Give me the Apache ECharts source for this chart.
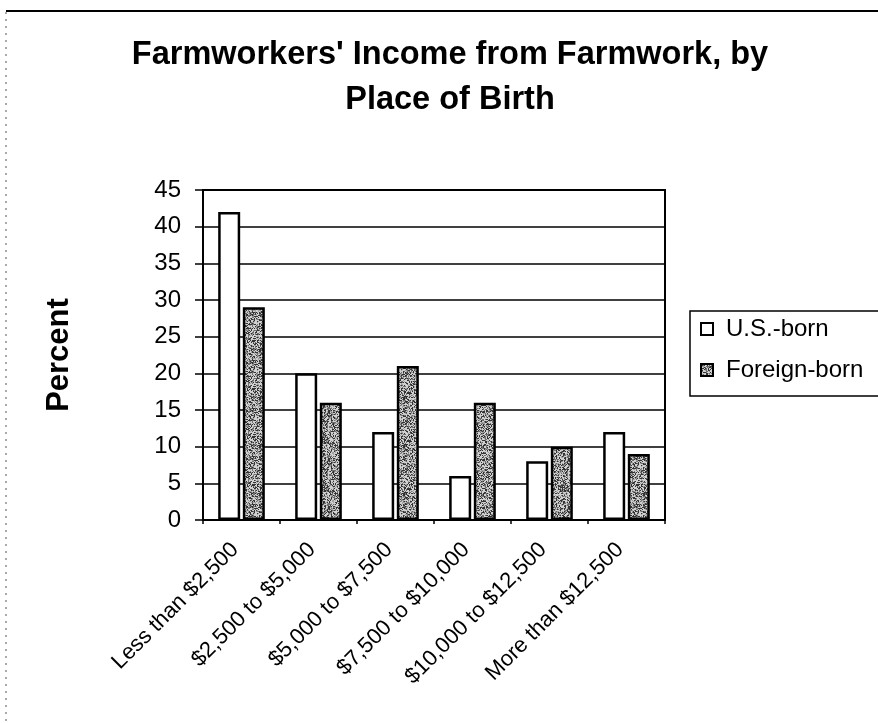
<!DOCTYPE html>
<html>
<head>
<meta charset="utf-8">
<script src="https://cdn.jsdelivr.net/npm/echarts@6/dist/echarts.min.js"></script>
<style>
  html, body { margin: 0; padding: 0; background: #fff; }
  #chart { width: 878px; height: 723px; }
</style>
</head>
<body>
<div id="chart"></div>
<script>
// Income brackets (x axis categories)
const categories = [
  'Less than $2,500',
  '$2,500 to $5,000',
  '$5,000 to $7,500',
  '$7,500 to $10,000',
  '$10,000 to $12,500',
  'More than $12,500'
];
// Percent of farmworkers in each bracket
const usBorn = [42, 20, 12, 6, 8, 12];
const foreignBorn = [29, 16, 21, 16, 10, 9];
const seriesNames = ['U.S.-born', 'Foreign-born'];
const yTicks = { min: 0, max: 45, interval: 5 };

// Speckled grey fill for the foreign-born bars
function stippleTexture() {
  const size = 48;
  const c = document.createElement('canvas');
  c.width = c.height = size;
  const ctx = c.getContext('2d');
  ctx.fillStyle = '#d0d0d0';
  ctx.fillRect(0, 0, size, size);
  let s = 12345;
  for (let i = 0; i < size * size; i++) {
    s = (s * 1103515245 + 12345) & 0x7fffffff;
    const v = (s >> 8) % 100;
    if (v < 60) {
      ctx.fillStyle = v < 25 ? '#333' : (v < 45 ? '#6e6e6e' : '#a0a0a0');
      ctx.fillRect(i % size, Math.floor(i / size), 1, 1);
    }
  }
  return c;
}

const font = "'Liberation Sans', Arial, sans-serif";
const chart = echarts.init(document.getElementById('chart'), null, { renderer: 'canvas' });

chart.setOption({
  backgroundColor: '#fff',
  animation: false,
  title: {
    text: "Farmworkers' Income from Farmwork, by\nPlace of Birth",
    left: 445,
    top: 28,
    textAlign: 'center',
    textStyle: { fontFamily: font, fontSize: 32.5, fontWeight: 'bold', color: '#000', lineHeight: 45 }
  },
  legend: {
    orient: 'vertical',
    left: 690,
    top: 311,
    data: seriesNames,
    icon: 'rect',
    itemWidth: 12,
    itemHeight: 12,
    itemGap: 17,
    padding: [6, 60, 14, 10],
    borderColor: '#000',
    borderWidth: 1.5,
    itemStyle: { borderColor: '#000', borderWidth: 2 },
    textStyle: { fontFamily: font, fontSize: 24, color: '#000', padding: [0, 0, 0, 8] }
  },
  grid: {
    left: 203,
    right: 213,
    top: 190,
    bottom: 203,
    show: true,
    borderColor: '#000',
    borderWidth: 2,
    backgroundColor: 'transparent'
  },
  xAxis: {
    type: 'category',
    data: categories,
    axisLine: { lineStyle: { color: '#000', width: 2 } },
    axisTick: { show: true, length: 4, lineStyle: { color: '#000', width: 1.5 } },
    axisLabel: {
      rotate: 45,
      margin: 20,
      interval: 0,
      padding: [0, 9, 0, 0],
      fontFamily: font,
      fontSize: 22,
      color: '#000'
    }
  },
  yAxis: {
    type: 'value',
    min: yTicks.min,
    max: yTicks.max,
    interval: yTicks.interval,
    name: 'Percent',
    nameLocation: 'middle',
    nameRotate: 90,
    nameGap: 128,
    nameTextStyle: { fontFamily: font, fontSize: 31, fontWeight: 'bold', color: '#000' },
    axisLine: { show: true, lineStyle: { color: '#000', width: 2 } },
    axisTick: { show: true, length: 8, lineStyle: { color: '#000', width: 1.5 } },
    axisLabel: { fontFamily: font, fontSize: 24, color: '#000', margin: 22 },
    splitLine: { show: true, lineStyle: { color: '#000', width: 1.5 } }
  },
  series: [
    {
      name: seriesNames[0],
      type: 'bar',
      data: usBorn,
      barWidth: 22,
      barGap: '12%',
      itemStyle: { color: '#fff', borderColor: '#000', borderWidth: 2.5 }
    },
    {
      name: seriesNames[1],
      type: 'bar',
      data: foreignBorn,
      barWidth: 22,
      itemStyle: {
        color: { image: stippleTexture(), repeat: 'repeat' },
        borderColor: '#000',
        borderWidth: 2.5
      }
    }
  ],
  graphic: [
    // page frame: solid rule along the top, dotted rule down the left
    { type: 'line', shape: { x1: 6, y1: 11, x2: 878, y2: 11 }, style: { stroke: '#000', lineWidth: 2 } },
    { type: 'line', shape: { x1: 6, y1: 12, x2: 6, y2: 723 }, style: { stroke: '#555', lineWidth: 1, lineDash: [2, 5] } }
  ]
});
</script>
</body>
</html>
